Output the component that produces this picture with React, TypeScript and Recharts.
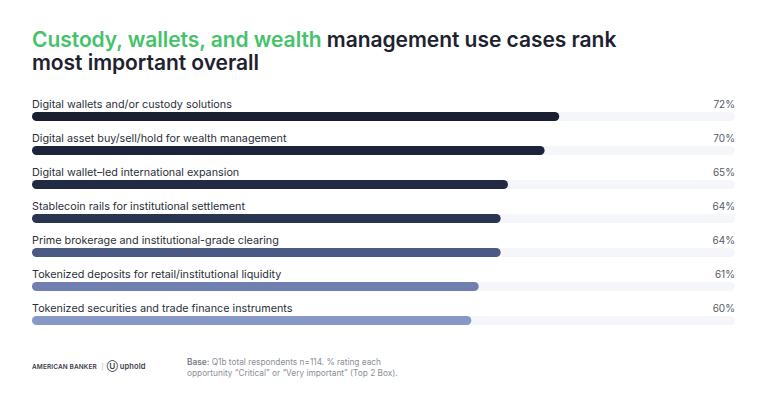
import React from 'react';
import { BarChart, Bar, XAxis, YAxis, LabelList } from 'recharts';

const categories = [
  'Digital wallets and/or custody solutions',
  'Digital asset buy/sell/hold for wealth management',
  'Digital wallet\u2013led international expansion',
  'Stablecoin rails for institutional settlement',
  'Prime brokerage and institutional-grade clearing',
  'Tokenized deposits for retail/institutional liquidity',
  'Tokenized securities and trade finance instruments',
];
const values = [72, 70, 65, 64, 64, 61, 60];
const barColors = ['#1a2032', '#1d2439', '#222b43', '#2a3552', '#4a5a85', '#6f7fb0', '#8798c6'];

const data = categories.map((name, i) => ({ name, value: values[i], color: barColors[i] }));

const FONT = 'Inter, "Open Sans", sans-serif';

function RowLabel(props: any) {
  const { x, y, index } = props;
  return (
    <g>
      <text x={x} y={y - 4} fontSize={10.8} fill="#2b2f38" fontFamily={FONT}>
        {categories[index]}
      </text>
      <text x={735} y={y - 4} fontSize={10} fill="#555a66" fontFamily={FONT} textAnchor="end">
        {values[index]}%
      </text>
    </g>
  );
}

export default function App() {
  return (
    <div style={{ position: 'absolute', left: 0, top: 0, width: 768, height: 402, background: '#fff', fontFamily: FONT }}>
      <div style={{ position: 'absolute', left: 32, top: 28, fontSize: 21, lineHeight: '23px', fontWeight: 600, color: '#1e2230', letterSpacing: -0.05 }}>
        <span style={{ color: '#45c26a' }}>Custody, wallets, and wealth</span> management use cases rank
        <br />
        most important overall
      </div>
      <BarChart
        width={768}
        height={402}
        data={data}
        layout="vertical"
        margin={{ top: 99, right: 33, bottom: 65, left: 32 }}
        barSize={9}
      >
        <XAxis type="number" hide domain={[0, 96]} />
        <YAxis type="category" dataKey="name" hide />
        <Bar
          dataKey="value"
          isAnimationActive={false}
          radius={4.5}
          background={{ fill: '#f5f6f9', radius: 4.5 } as any}
          shape={(p: any) => {
            const { x, y, width, height, payload } = p;
            const r = height / 2;
            return <rect x={x} y={y} width={width} height={height} rx={r} ry={r} fill={payload.color} />;
          }}
        >
          <LabelList dataKey="value" content={RowLabel} />
        </Bar>
      </BarChart>
      <div style={{ position: 'absolute', left: 32, top: 361, fontSize: 6.5, fontWeight: 600, color: '#3a3e48', letterSpacing: 0.1 }}>
        AMERICAN BANKER <span style={{ color: '#aaa', fontWeight: 400, margin: '0 3px' }}>|</span>
        <span style={{ fontSize: 8, fontWeight: 600 }}>{'\u24ca'}</span> <span style={{ fontSize: 7.5 }}>uphold</span>
      </div>
      <div style={{ position: 'absolute', left: 187, top: 357, fontSize: 8.3, lineHeight: '11px', color: '#8a8e98' }}>
        <b style={{ color: '#777b86', fontWeight: 600 }}>Base:</b> Q1b total respondents n=114. % rating each
        <br />
        opportunity &ldquo;Critical&rdquo; or &ldquo;Very important&rdquo; (Top 2 Box).
      </div>
    </div>
  );
}
